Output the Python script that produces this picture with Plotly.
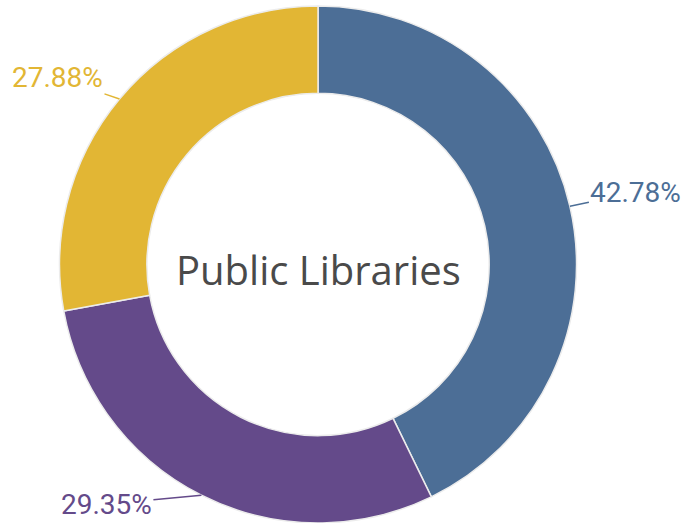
import math
import plotly.graph_objects as go

labels = ["Blue", "Purple", "Yellow"]
values = [42.78, 29.35, 27.88]
colors = ["#4C6E96", "#644A8A", "#E2B634"]
center_title = "Public Libraries"

W, H = 681, 523
M_T, M_B = 6, 0
DOM_X = [0.0874, 0.8466]

# label offsets (pixels) from the slice's outer edge midpoint to the text
label_offsets = [(66, -14), (-95, 9), (-62, -21)]

fig = go.Figure(go.Pie(
    labels=labels,
    values=values,
    hole=0.662,
    sort=False,
    direction="clockwise",
    rotation=0,
    automargin=False,
    domain=dict(x=DOM_X, y=[0, 1]),
    marker=dict(colors=colors, line=dict(color="#ececec", width=1.5)),
    textinfo="none",
    showlegend=False,
    hoverinfo="skip",
))

# outside labels placed at the slice mid-angles derived from the values
plot_h = H - M_T - M_B
cx_px = (DOM_X[0] + DOM_X[1]) / 2 * W
r_px = min((DOM_X[1] - DOM_X[0]) * W, plot_h) / 2
cy_paper = 0.5
total = sum(values)
cum = 0.0
for v, c, (dx, dy) in zip(values, colors, label_offsets):
    mid = (cum + v / 2) / total * 2 * math.pi
    cum += v
    ex = (cx_px + r_px * math.sin(mid)) / W
    ey = cy_paper + r_px * math.cos(mid) / plot_h
    fig.add_annotation(
        x=ex, y=ey, xref="paper", yref="paper",
        ax=dx, ay=dy, axref="pixel", ayref="pixel",
        text=f"{v:.2f}%", showarrow=True, arrowhead=0,
        arrowwidth=1.5, arrowcolor=c, standoff=0,
        font=dict(family="Roboto", size=28, color=c),
    )

# centre title
fig.add_annotation(
    x=cx_px / W, y=cy_paper, xref="paper", yref="paper",
    text=center_title, showarrow=False, yshift=-5,
    font=dict(family="Open Sans", size=40, color="#4a4a4a"),
)

fig.update_layout(
    width=W, height=H,
    margin=dict(l=0, r=0, t=M_T, b=M_B, autoexpand=False),
    paper_bgcolor="white",
    plot_bgcolor="white",
)

fig.write_html(
    "out.html",
    config={"displayModeBar": False},
    post_script="document.body.style.margin='0';document.body.style.overflow='hidden';",
)
